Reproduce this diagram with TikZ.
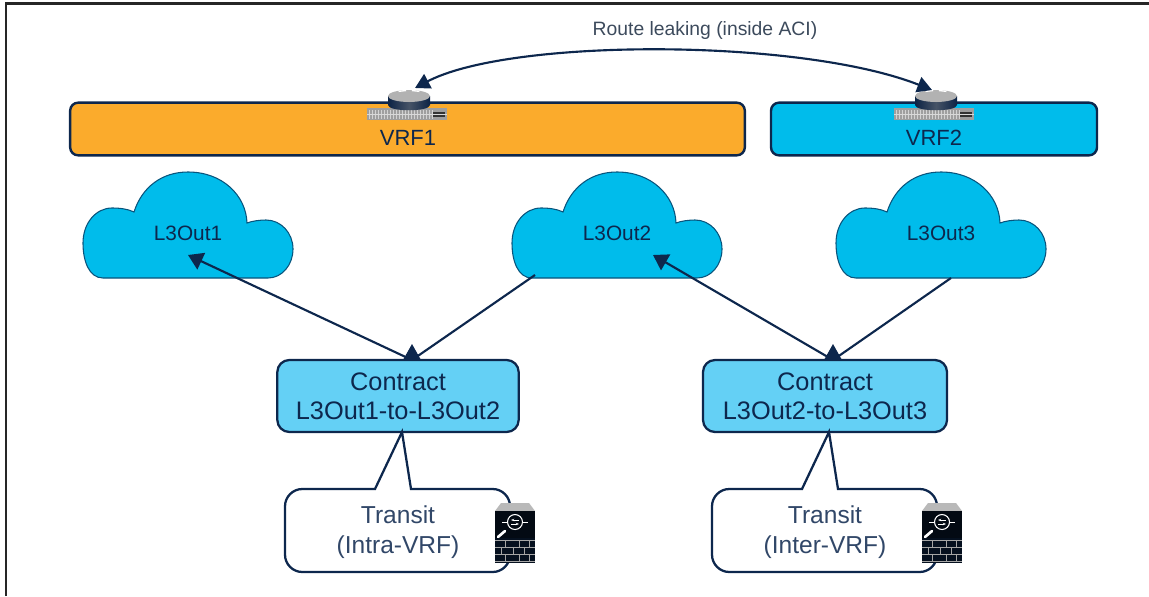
\documentclass[tikz,border=0pt]{standalone}
\usepackage{fontspec}
\setmainfont{Liberation Sans}
\usetikzlibrary{arrows.meta}

\definecolor{navy}{HTML}{0D274D}
\definecolor{vrforange}{HTML}{FBAB2C}
\definecolor{ciscoblue}{HTML}{00BCEB}
\definecolor{contractblue}{HTML}{64D0F5}
\definecolor{labelgrey}{HTML}{3C4A5C}

\tikzset{
  vrfbar/.style={draw=navy, line width=1.8pt, rounded corners=6pt, minimum height=39.5pt},
  vrftext/.style={text=navy, font=\fontsize{16.5}{18}\selectfont},
  cloudtext/.style={text=navy, font=\fontsize{15.6}{18}\selectfont},
  contractbox/.style={draw=navy, line width=1.7pt, fill=contractblue, rounded corners=9pt,
    minimum width=181pt, minimum height=54pt, align=center, text=navy,
    font=\fontsize{19}{22}\selectfont},
  transittext/.style={align=center, text=navy!85!white, font=\fontsize{18.4}{22}\selectfont},
  link/.style={navy, line width=1.6pt},
  leak/.style={link, {Triangle[length=11pt,width=12pt]}-{Triangle[length=11pt,width=12pt]}},
  linkarrow/.style={link, -{Triangle[length=11pt,width=13.5pt]}},
  callout/.style={draw=navy, line width=1.7pt, fill=white},
  cloudshape/.pic={
    \draw[navy!70!ciscoblue, line width=0.8pt, fill=ciscoblue]
      (-85,53) .. controls (-99,53) and (-105,36) .. (-105,18)
      .. controls (-105,-2) and (-92,-17) .. (-76,-17)
      .. controls (-68,-17) and (-60,-16) .. (-54,-13)
      .. controls (-46,-38) and (-26,-53) .. (0,-53)
      .. controls (34,-53) and (58,-30) .. (59,-2)
      .. controls (64,-4) and (72,-5) .. (78,-5)
      .. controls (93,-5) and (105,8) .. (105,24)
      .. controls (105,40) and (94,53) .. (80,53) -- cycle;
  },
  routericon/.pic={
    \fill[gray!75] (-42,18) rectangle (38,30);
    \foreach \i in {-40,-37,...,24} \draw[gray!35, line width=0.5pt] (\i,20) -- (\i,29);
    \fill[gray!40!black] (24,22) rectangle (36,27);
    \draw[gray!30, line width=0.6pt] (-42,24) -- (38,24);
    \shade[left color=navy!90!black, right color=navy!90!black, middle color=gray!50!navy]
      (-21,6) -- (-21,15) .. controls (-21,22) and (21,22) .. (21,15) -- (21,6) -- cycle;
    \fill[gray!60] (0,6) ellipse[x radius=21, y radius=6];
    \foreach \a in {20,160,200,340} \draw[white, line width=1pt] (\a:3 and 1.5) -- (\a:11 and 4);
  },
  firewallicon/.pic={
    \fill[gray!55] (-20,8) -- (-14,0) -- (14,0) -- (20,8) -- cycle;
    \fill[black!75!navy] (-20,8) rectangle (20,35);
    \fill[black!60!navy] (-20,35) rectangle (20,60);
    \draw[white, line width=0.8pt] (0,19) circle[radius=7.5];
    \draw[white, line width=0.7pt] (-13,19) -- (-7.5,19) (7.5,19) -- (13,19);
    \draw[white, line width=0.7pt, -{Stealth[length=2.5pt]}] (-4,21) -- (4,21);
    \draw[white, line width=0.7pt, -{Stealth[length=2.5pt]}] (4,17) -- (-4,17);
    \draw[white, line width=2pt, line cap=round] (-17,34) -- (-10,28);
    \foreach \j in {37,44,51,58} \draw[gray!70, line width=0.7pt] (-20,\j) -- (20,\j);
    \foreach \i in {-10,4,14} \draw[gray!70, line width=0.7pt] (\i,37) -- (\i,44) (\i,51) -- (\i,58);
    \foreach \i in {-14,-2,9} \draw[gray!70, line width=0.7pt] (\i,44) -- (\i,51);
  },
}

\begin{document}
\begin{tikzpicture}[x=0.75pt, y=-0.75pt]
  \useasboundingbox (0,0) rectangle (1149,596);
  \draw[black!85, line width=2.2pt] (6,596) -- (6,3.5) -- (1149,3.5);

  % vrf bars
  \node[vrfbar, fill=vrforange, minimum width=506pt] (vrf1) at (407.5,129) {};
  \node[vrfbar, fill=ciscoblue, minimum width=244.5pt] (vrf2) at (934,129) {};
  \node[vrftext] (vrf1text) at (408,138) {VRF1};
  \node[vrftext] (vrf2text) at (934,138) {VRF2};

  % routers
  \pic at (409,90) {routericon};
  \pic at (936,90) {routericon};
  \coordinate (r1) at (415,88);
  \coordinate (r2) at (932,90);
  \draw[leak] (r1) .. controls (510,38) and (800,38) .. (r2);
  \node[text=labelgrey, font=\fontsize{14.5}{16}\selectfont] (leaktext) at (705,31) {Route leaking (inside ACI)};

  % clouds
  \pic at (188,225) {cloudshape};
  \pic at (617,225) {cloudshape};
  \pic at (941,225) {cloudshape};
  \node[cloudtext] (cloud1) at (188,233) {L3Out1};
  \node[cloudtext] (cloud2) at (617,233) {L3Out2};
  \node[cloudtext] (cloud3) at (941,233) {L3Out3};
  \coordinate (in1) at (188,255);
  \coordinate (in2) at (653,255);
  \coordinate (out2) at (535,275);
  \coordinate (out3) at (951,278);

  % contracts
  \node[contractbox] (contract1) at (398,396) {Contract\\L3Out1-to-L3Out2};
  \node[contractbox, minimum width=183pt] (contract2) at (825,396) {Contract\\L3Out2-to-L3Out3};
  \coordinate (top1) at (412,360);
  \coordinate (top2) at (833,360);
  \draw[linkarrow] (top1) -- (in1);
  \draw[link] (out2) -- (top1);
  \draw[linkarrow] (top2) -- (in2);
  \draw[link] (out3) -- (top2);
  \fill[navy] (top1) ++(-9,0) -- ++(9,-16) -- ++(9,16) -- cycle;
  \fill[navy] (top2) ++(-9,0) -- ++(9,-16) -- ++(9,16) -- cycle;

  % transit callouts
  \draw[callout, sharp corners] (375,489) -- (402,432) -- (411,489) [rounded corners=13pt] -- (510,489) -- (510,572) -- (285,572) -- (285,489) [sharp corners] -- cycle;
  \draw[callout, sharp corners] (802,489) -- (829,432) -- (838,489) [rounded corners=13pt] -- (937,489) -- (937,572) -- (712,572) -- (712,489) [sharp corners] -- cycle;
  \node[transittext] (transit1) at (398,532) {Transit\\(Intra-VRF)};
  \node[transittext] (transit2) at (825,532) {Transit\\(Inter-VRF)};
  \pic at (515,503) {firewallicon};
  \pic at (942,503) {firewallicon};
\end{tikzpicture}
\end{document}
